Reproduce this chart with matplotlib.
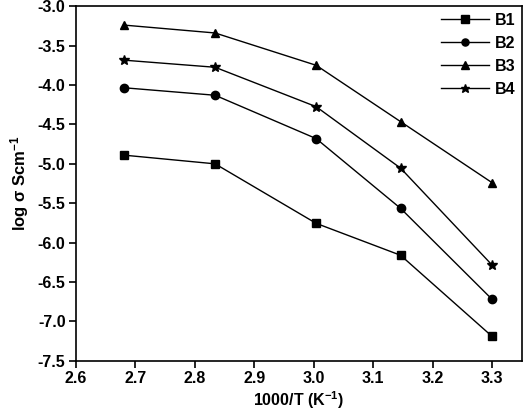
import matplotlib
matplotlib.use('Agg')
import matplotlib.pyplot as plt

# 1000/T values (K^-1)
inv_t = [2.681, 2.834, 3.004, 3.146, 3.300]

b1 = [-4.89, -5.00, -5.755, -6.16, -7.19]
b2 = [-4.035, -4.13, -4.68, -5.565, -6.72]
b3 = [-3.24, -3.34, -3.75, -4.465, -5.24]
b4 = [-3.685, -3.775, -4.275, -5.055, -6.285]

series = [("B1", b1, "s"), ("B2", b2, "o"), ("B3", b3, "^"), ("B4", b4, "*")]

plt.rcParams['font.family'] = ['Liberation Sans', 'DejaVu Sans']
plt.rcParams['font.weight'] = 'bold'
plt.rcParams['mathtext.default'] = 'regular'

fig = plt.figure(figsize=(5.24, 4.12), dpi=100)
ax = fig.add_axes([0.145, 0.124, 0.851, 0.861])

for name, vals, mk in series:
    ms = 7.5 if mk == "*" else 6
    ax.plot(inv_t, vals, color='black', lw=1, marker=mk, ms=ms, label=name)

ax.set_xlim(2.6, 3.35)
ax.set_ylim(-7.5, -3.0)
ax.set_xticks([2.6, 2.7, 2.8, 2.9, 3.0, 3.1, 3.2, 3.3])
ax.set_yticks([-7.5, -7.0, -6.5, -6.0, -5.5, -5.0, -4.5, -4.0, -3.5, -3.0])
ax.xaxis.set_major_formatter(matplotlib.ticker.FormatStrFormatter('%.1f'))
ax.yaxis.set_major_formatter(matplotlib.ticker.FormatStrFormatter('%.1f'))
ax.tick_params(direction='out', length=5, width=1.2, labelsize=11.5, pad=2.5)
for s in ax.spines.values():
    s.set_linewidth(1.2)

ax.set_xlabel('1000/T (K$^{-1}$)', fontsize=11.5, fontweight='bold', labelpad=2)
ax.set_ylabel('log σ Scm$^{-1}$', fontsize=12, fontweight='bold', labelpad=5)

leg = ax.legend(loc='upper right', frameon=False, handlelength=3.0, fontsize=11.5,
                labelspacing=0.5, handletextpad=0.35, borderaxespad=0.1,
                borderpad=0.3, markerscale=0.85)

fig.savefig('out.png', dpi=100)
